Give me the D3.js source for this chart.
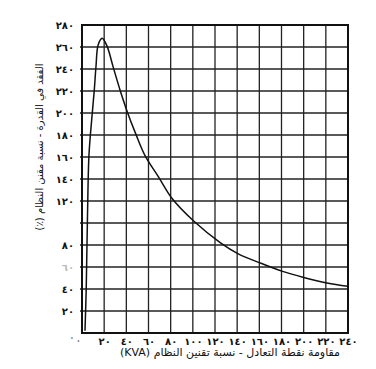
<!DOCTYPE html>
<html><head><meta charset="utf-8">
<script src="https://cdn.jsdelivr.net/npm/d3@7/dist/d3.min.js"></script>
<style>body{margin:0;background:#fff}svg{display:block}</style>
</head><body><svg id="c" width="376" height="369"></svg>
<script>
// Data
const lossX = [2.7, 3.8, 5, 6.3, 8.75, 11.1, 12.6, 14.6, 18.2, 22.5, 28.2, 34.3, 40.9, 48.5, 57, 69, 81.5, 100.5, 125, 141, 160, 181, 200, 221, 240];
const lossY = [2, 40, 109, 162, 194, 221, 242, 262, 268, 261, 241.5, 221, 201, 181, 161, 142, 122, 102, 82, 72, 64, 56, 50.5, 45.5, 42.5];
const xTickValues = [0, 20, 40, 60, 80, 100, 120, 140, 160, 180, 200, 220, 240];
const xTickLabels = ["٠", "٢٠", "٤٠", "٦٠", "٨٠", "١٠٠", "١٢٠", "١٤٠", "١٦٠", "١٨٠", "٢٠٠", "٢٢٠", "٢٤٠"];
const yTickValues = [0, 20, 40, 60, 80, 100, 120, 140, 160, 180, 200, 220, 240, 260, 280];
const yTickLabels = ["٠", "٢٠", "٤٠", "٦٠", "٨٠", "", "١٢٠", "١٤٠", "١٦٠", "١٨٠", "٢٠٠", "٢٢٠", "٢٤٠", "٢٦٠", "٢٨٠"];
const xTitle = "مقاومة نقطة التعادل - نسبة تقنين النظام (KVA)";
const yTitle = "الفقد في القدرة - نسبة مقنن النظام (٪)";

const svg = d3.select("#c");
const L = 82, R = 348, T = 25, B = 333;
const x = d3.scaleLinear().domain([0, 240]).range([L, R]);
const y = d3.scaleLinear().domain([0, 280]).range([B, T]);
const font = "DejaVu Sans";

// grid
const g = svg.append("g").attr("stroke", "#222").attr("stroke-width", 1.3);
xTickValues.slice(1, -1).forEach(v => g.append("line")
  .attr("x1", x(v)).attr("x2", x(v)).attr("y1", T).attr("y2", B));
yTickValues.slice(1, -1).forEach(v => g.append("line")
  .attr("x1", L - 2).attr("x2", R).attr("y1", y(v)).attr("y2", y(v)));
svg.append("rect").attr("x", L).attr("y", T).attr("width", R - L).attr("height", B - T)
  .attr("fill", "none").attr("stroke", "#111").attr("stroke-width", 2);

// axes labels via d3 axes (no lines)
const xAxis = d3.axisBottom(x).tickValues(xTickValues)
  .tickFormat((d, i) => xTickLabels[i]).tickSize(0).tickPadding(5);
const xa = svg.append("g").attr("transform", `translate(0,${B})`).call(xAxis);
xa.select(".domain").remove();
xa.selectAll("text").attr("font-family", font).attr("font-size", 10)
  .attr("font-weight", "bold").attr("fill", "#111");
xa.selectAll(".tick").filter((d, i) => i === 0).select("text").attr("dx", -4).attr("font-size", 7);

const yAxis = d3.axisLeft(y).tickValues(yTickValues)
  .tickFormat((d, i) => yTickLabels[i]).tickSize(0).tickPadding(8);
const ya = svg.append("g").attr("transform", `translate(${L},0)`).call(yAxis);
ya.select(".domain").remove();
ya.selectAll("text").attr("font-family", font).attr("font-size", 10)
  .attr("font-weight", "bold").attr("fill", "#111");
ya.selectAll(".tick").filter(d => d === 60).select("text").attr("fill", "#bbb");
ya.selectAll(".tick").filter(d => d === 0).select("text").attr("dy", "0.9em").attr("font-size", 7);

// curve
const pts = lossX.map((v, i) => [v, lossY[i]]);
svg.append("path").datum(pts)
  .attr("fill", "none").attr("stroke", "#111").attr("stroke-width", 1.5)
  .attr("d", d3.line().x(d => x(d[0])).y(d => y(d[1])).curve(d3.curveCatmullRom.alpha(0.5)));

// titles
svg.append("text").attr("x", 230).attr("y", 356).attr("text-anchor", "middle")
  .attr("direction", "rtl")
  .attr("font-family", font).attr("font-size", 11).attr("fill", "#111").text(xTitle);
svg.append("text").attr("transform", "translate(43,147) rotate(-90)").attr("text-anchor", "middle")
  .attr("direction", "rtl")
  .attr("font-family", font).attr("font-size", 10).attr("fill", "#111").text(yTitle);
</script></body></html>
